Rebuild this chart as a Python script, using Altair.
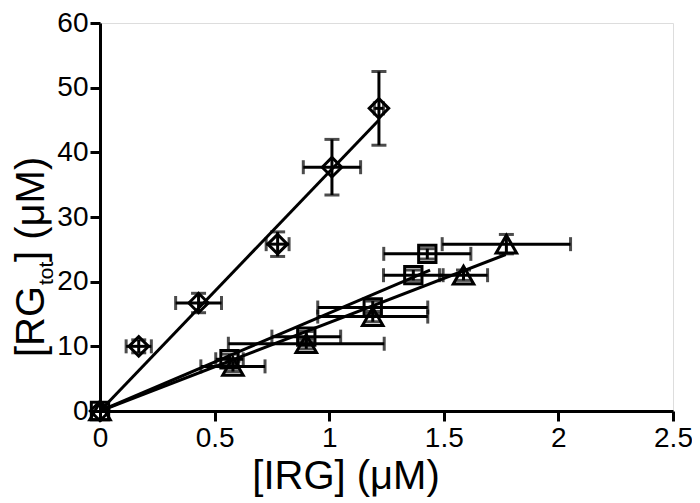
import altair as alt
import pandas as pd

# ---- data ----
series_names = ["diamond", "square", "triangle"]

dia_x = [0.0, 0.169, 0.43, 0.775, 1.012, 1.217]
dia_y = [0.0, 10.0, 16.7, 25.8, 37.7, 46.8]
dia_xerr = [0.0, 0.055, 0.10, 0.05, 0.125, 0.02]
dia_yerr = [0.0, 1.0, 1.5, 1.9, 4.3, 5.7]

sq_x = [0.0, 0.565, 0.90, 1.19, 1.367, 1.428]
sq_y = [0.0, 8.0, 11.5, 16.0, 21.0, 24.3]
sq_xerr = [0.0, 0.06, 0.15, 0.24, 0.13, 0.19]
sq_yerr = [0.0, 0.8, 0.8, 1.0, 0.8, 0.8]

tr_x = [0.0, 0.58, 0.90, 1.19, 1.586, 1.773]
tr_y = [0.0, 6.9, 10.4, 14.6, 21.0, 25.8]
tr_xerr = [0.0, 0.14, 0.34, 0.24, 0.105, 0.28]
tr_yerr = [0.0, 0.8, 0.8, 0.8, 0.8, 1.5]

# fitted lines (end points)
fit_x = {"diamond": [0.0, 1.217], "square": [0.0, 1.44], "triangle": [0.0, 1.77]}
fit_y = {"diamond": [0.0, 45.0], "square": [0.0, 21.8], "triangle": [0.0, 24.2]}

x_ticks = [0, 0.5, 1, 1.5, 2, 2.5]
y_ticks = [0, 10, 20, 30, 40, 50, 60]

# ---- tables ----
pts = []
caps = []
for name, xs, ys, xe, ye in [
    ("diamond", dia_x, dia_y, dia_xerr, dia_yerr),
    ("square", sq_x, sq_y, sq_xerr, sq_yerr),
    ("triangle", tr_x, tr_y, tr_xerr, tr_yerr),
]:
    for x, y, a, b in zip(xs, ys, xe, ye):
        pts.append(dict(series=name, x=x, y=y, xlo=x - a, xhi=x + a, ylo=y - b, yhi=y + b))
        if a > 0:
            caps.append(dict(kind="h", x=x - a, y=y))
            caps.append(dict(kind="h", x=x + a, y=y))
        if b > 0:
            caps.append(dict(kind="v", x=x, y=y - b))
            caps.append(dict(kind="v", x=x, y=y + b))
df = pd.DataFrame(pts)
caps_df = pd.DataFrame(caps)

lines = []
for name in series_names:
    for x, y in zip(fit_x[name], fit_y[name]):
        lines.append(dict(series=name, x=x, y=y))
lines_df = pd.DataFrame(lines)

FONT = "Liberation Sans"
xs = alt.Scale(domain=[0, 2.5], nice=False, zero=False)
ys = alt.Scale(domain=[0, 60], nice=False, zero=False)

x_axis = alt.Axis(values=x_ticks, format="~g", title=None, grid=False,
                  domainColor="black", domainWidth=3, tickColor="black", tickWidth=3,
                  tickSize=10, labelFontSize=28, labelFont=FONT, labelColor="black",
                  labelPadding=3, labelFlush=False)
y_axis = alt.Axis(values=y_ticks, title=None, grid=False,
                  domainColor="black", domainWidth=3, tickColor="black", tickWidth=3,
                  tickSize=10, labelFontSize=28, labelFont=FONT, labelColor="black",
                  labelPadding=2, labelFlush=False)

fit = alt.Chart(lines_df).mark_line(color="black", strokeWidth=3).encode(
    x=alt.X("x:Q", scale=xs, axis=x_axis),
    y=alt.Y("y:Q", scale=ys, axis=y_axis),
    detail="series:N",
)

hbar = alt.Chart(df).mark_rule(color="black", strokeWidth=3).encode(
    x=alt.X("xlo:Q", scale=xs), x2="xhi:Q", y=alt.Y("y:Q", scale=ys))
vbar = alt.Chart(df).mark_rule(color="black", strokeWidth=3).encode(
    x=alt.X("x:Q", scale=xs), y=alt.Y("ylo:Q", scale=ys), y2="yhi:Q")

hcap = alt.Chart(caps_df).transform_filter(alt.datum.kind == "h").mark_tick(
    color="black", thickness=3, size=14, orient="vertical").encode(
    x=alt.X("x:Q", scale=xs), y=alt.Y("y:Q", scale=ys))
vcap = alt.Chart(caps_df).transform_filter(alt.datum.kind == "v").mark_tick(
    color="black", thickness=3, size=15, orient="horizontal").encode(
    x=alt.X("x:Q", scale=xs), y=alt.Y("y:Q", scale=ys))

shape_map = {"diamond": ("diamond", 380), "square": ("square", 300), "triangle": ("triangle-up", 420)}
markers = []
for name in series_names:
    shp, sz = shape_map[name]
    markers.append(
        alt.Chart(df).transform_filter(alt.datum.series == name).mark_point(
            shape=shp, size=sz, filled=False, color="black", strokeWidth=3, opacity=1).encode(
            x=alt.X("x:Q", scale=xs), y=alt.Y("y:Q", scale=ys))
    )

one = pd.DataFrame({"k": [0]})
ytitle_main1 = alt.Chart(one).mark_text(text="[RG", angle=270, align="left", baseline="alphabetic",
                                        font=FONT, fontSize=40, color="black").encode(
    x=alt.value(-56), y=alt.value(334))
ytitle_sub = alt.Chart(one).mark_text(text="tot", angle=270, align="left", baseline="alphabetic",
                                      font=FONT, fontSize=21, color="black").encode(
    x=alt.value(-47), y=alt.value(262))
ytitle_main2 = alt.Chart(one).mark_text(text="] (μM)", angle=270, align="left", baseline="alphabetic",
                                        font=FONT, fontSize=40, color="black").encode(
    x=alt.value(-56), y=alt.value(239))
xtitle = alt.Chart(one).mark_text(text="[IRG] (μM)", align="center", baseline="alphabetic",
                                  font=FONT, fontSize=40, color="black").encode(
    x=alt.value(246), y=alt.value(466))

chart = alt.layer(
    fit, hbar, vbar, hcap, vcap, *markers, ytitle_main1, ytitle_sub, ytitle_main2, xtitle
).properties(
    width=573, height=388,
    autosize=alt.AutoSizeParams(type="none"),
    padding={"left": 92, "top": 15, "right": 19, "bottom": 92},
).configure_view(stroke=None).configure(background="white")

chart.save("out.html", embed_options={"renderer": "svg", "actions": False})
